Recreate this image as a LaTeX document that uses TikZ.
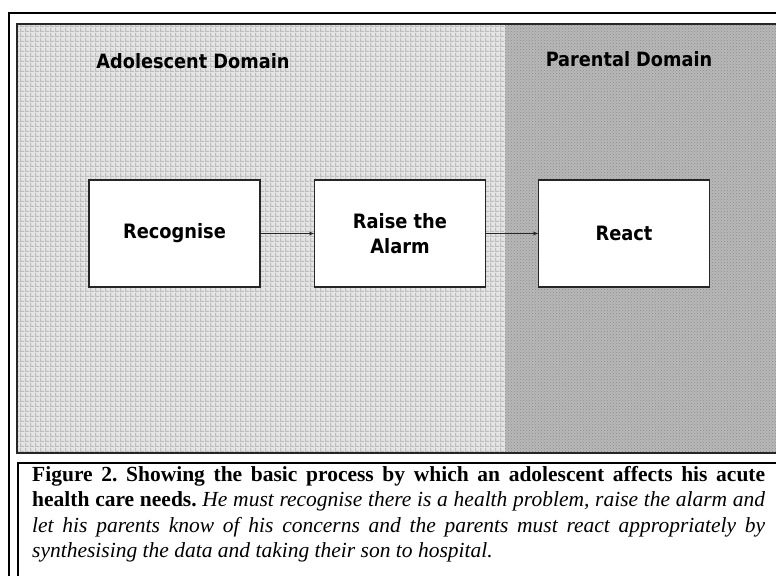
\documentclass[tikz,border=0pt]{standalone}
\usepackage{fontspec}
\setmainfont{Liberation Serif}
\newfontfamily\labfont{DejaVu Sans Condensed}
\usetikzlibrary{patterns,arrows.meta}
\pgfdeclarepatternformonly{adochk}{\pgfqpoint{0pt}{0pt}}{\pgfqpoint{5pt}{5pt}}{\pgfqpoint{5pt}{5pt}}{%
  \pgfpathrectangle{\pgfqpoint{0pt}{0pt}}{\pgfqpoint{5pt}{1.3pt}}%
  \pgfpathrectangle{\pgfqpoint{0pt}{0pt}}{\pgfqpoint{1.3pt}{5pt}}%
  \pgfusepath{fill}}
\definecolor{adofill}{gray}{0.90}
\definecolor{adopat}{gray}{0.74}
\definecolor{parfill}{gray}{0.72}
\definecolor{parpat}{gray}{0.55}
\definecolor{linegray}{gray}{0.15}
\tikzset{
  stagebox/.style={draw=linegray, line width=1.2pt, fill=white, minimum width=171pt, minimum height=107pt,
    inner sep=0pt, align=center, font=\labfont\bfseries\fontsize{19.8}{25.5}\selectfont},
  domaintitle/.style={anchor=base, inner sep=0pt, font=\labfont\bfseries\fontsize{19.7}{22}\selectfont},
  flow/.style={draw=linegray, line width=0.9pt, -{Stealth[length=5pt,width=4pt]}}
}
\begin{document}
\begin{tikzpicture}[x=1pt,y=-1pt]
\useasboundingbox (0,0) rectangle (776,576);
\fill[white] (0,0) rectangle (776,576);
% domains
\fill[adofill] (17,24) rectangle (505,453);
\pattern[pattern=adochk, pattern color=adopat] (17,24) rectangle (505,453);
\fill[parfill] (505,24) rectangle (776,453);
\pattern[pattern=crosshatch dots, pattern color=parpat] (505,24) rectangle (776,453);
\draw[linegray, line width=1.2pt] (776,24) -- (17,24) -- (17,453) -- (776,453);
% outer frame
\draw[black, line width=1.6pt] (776,13) -- (9,13) -- (9,576);
% caption frame
\draw[black, line width=2pt] (776,463) -- (18,463) -- (18,576);
% titles
\node[domaintitle] (tado) at (193,68) {Adolescent Domain};
\node[domaintitle] (tpar) at (629,66) {Parental Domain};
% boxes
\node[stagebox] (rec) at (174.5,233.5) {Recognise};
\node[stagebox] (ral) at (400,233.5) {Raise the\\Alarm};
\node[stagebox] (rea) at (624,233.5) {React};
\draw[flow] (rec) -- (ral);
\draw[flow] (ral) -- (rea);
% caption
\node[anchor=north west, inner sep=0pt, text width=733pt, align=justify,
  font=\fontsize{21.5}{25.5}\selectfont\frenchspacing] (cap) at (32,466)
{\textbf{Figure 2. Showing the basic process by which an adolescent affects his acute\linebreak
health care needs.} \textit{He must recognise there is a health problem, raise the alarm and\linebreak
let his parents know of his concerns and the parents must react appropriately by\linebreak
synthesising the data and taking their son to hospital.}};
\end{tikzpicture}
\end{document}
